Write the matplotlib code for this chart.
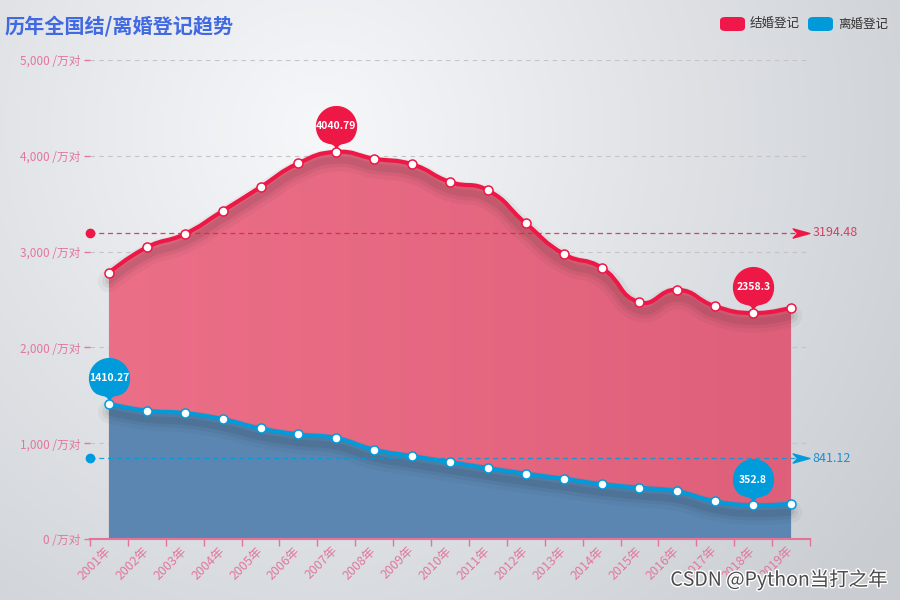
import numpy as np
import matplotlib
matplotlib.use('Agg')
import matplotlib.pyplot as plt
import matplotlib.patheffects as pe
from matplotlib.path import Path
from matplotlib.patches import PathPatch, FancyBboxPatch
from matplotlib.colors import LinearSegmentedColormap

plt.rcParams['font.family'] = ['Noto Sans CJK SC', 'DejaVu Sans']

# data (万对)
years = ['2001年', '2002年', '2003年', '2004年', '2005年', '2006年', '2007年',
         '2008年', '2009年', '2010年', '2011年', '2012年', '2013年', '2014年',
         '2015年', '2016年', '2017年', '2018年', '2019年']
marriage = [2780, 3045, 3184, 3425, 3674, 3922, 4040.79, 3970, 3911, 3727,
            3640, 3295, 2975, 2832, 2471, 2602, 2429, 2358.3, 2414]
divorce = [1410.27, 1339, 1314, 1251, 1154, 1092, 1053, 932, 865, 802,
           740, 681, 629, 573, 535, 497, 392, 352.8, 369.21]

RED = '#EE1846'
BLUE = '#009BDB'
PINK = '#E2779B'
W, H = 900, 600


def smooth_path(xs, ys, sx, sy, smooth=0.5, close=False):
    # echarts-like bezier smoothing, control points only
    pts = np.column_stack([xs, ys]).astype(float)
    n = len(pts)
    cps = []
    for i in range(n):
        if i == 0 or i == n - 1:
            cps.append((pts[i], pts[i]))
            continue
        prev, cur, nxt = pts[i - 1], pts[i], pts[i + 1]
        v = (nxt - prev) * smooth
        d0 = np.hypot((cur[0] - prev[0]) * sx, (cur[1] - prev[1]) * sy)
        d1 = np.hypot((nxt[0] - cur[0]) * sx, (nxt[1] - cur[1]) * sy)
        cps.append((cur - v * d0 / (d0 + d1), cur + v * d1 / (d0 + d1)))
    verts = [pts[0]]
    codes = [Path.MOVETO]
    for i in range(1, n):
        verts += [cps[i - 1][1], cps[i][0], pts[i]]
        codes += [Path.CURVE4] * 3
    if close:
        verts += [(pts[-1][0], 0), (pts[0][0], 0), pts[0]]
        codes += [Path.LINETO, Path.LINETO, Path.CLOSEPOLY]
    return Path(np.array(verts), codes)


def pin_marker(D=1.3):
    # tip at (0, 0), bulb of radius 1 centred at (0, D)
    u = (D + np.sqrt(D * D + 4)) / 2
    dy = 1 / u
    a = np.arcsin(dy)
    dx = np.cos(a)
    th = np.linspace(-a, np.pi + a, 48)
    arc = np.column_stack([np.cos(th), D + np.sin(th)])
    c1 = (-dx + np.sin(a) * 0.6, D - dy - np.cos(a) * 0.6)
    c2 = (dx - np.sin(a) * 0.6, D - dy - np.cos(a) * 0.6)
    verts = list(arc) + [c1, (0, 0.7), (0, 0), (0, 0.7), c2, arc[0], arc[0]]
    codes = ([Path.MOVETO] + [Path.LINETO] * (len(arc) - 1) +
             [Path.CURVE4] * 6 + [Path.CLOSEPOLY])
    return Path(np.array(verts), codes)


def arrow_marker():
    verts = [(1, 0), (-1, 0.55), (-0.45, 0), (-1, -0.55), (1, 0)]
    codes = [Path.MOVETO, Path.LINETO, Path.LINETO, Path.LINETO, Path.CLOSEPOLY]
    return Path(verts, codes)


fig = plt.figure(figsize=(9, 6), dpi=100)

# background radial gradient
bg = fig.add_axes([0, 0, 1, 1], zorder=-10)
bg.axis('off')
yy, xx = np.mgrid[0:H, 0:W]
t = np.clip(np.hypot(xx - 320, yy - 130) / 700, 0, 1)[..., None]
light = np.array([0.965, 0.97, 0.978])
dark = np.array([0.79, 0.805, 0.825])
bg.imshow(light * (1 - t) + dark * t, extent=[0, 1, 0, 1], aspect='auto')

ax = fig.add_axes([90 / W, 61 / H, 720 / W, 479 / H])
ax.patch.set_alpha(0)
x = np.arange(len(years))
ax.set_xlim(-0.5, len(years) - 0.5)
ax.set_ylim(0, 5000)
sx = 720 / len(years)
sy = 479 / 5000

shadow = [pe.SimpleLineShadow(offset=(0, -6), shadow_color='#202020', alpha=0.045, linewidth=16),
          pe.SimpleLineShadow(offset=(0, -6), shadow_color='#202020', alpha=0.06, linewidth=10),
          pe.SimpleLineShadow(offset=(0, -6), shadow_color='#202020', alpha=0.08, linewidth=5),
          pe.Normal()]

# marriage area with horizontal gradient
m_fill = PathPatch(smooth_path(x, marriage, sx, sy, close=True), facecolor='none',
                   edgecolor='none', transform=ax.transData)
ax.add_patch(m_fill)
cmap = LinearSegmentedColormap.from_list('pk', ['#EC6F88', '#DE5F79'])
im = ax.imshow(np.linspace(0, 1, 100)[None, :], cmap=cmap, aspect='auto',
               extent=[-0.5, len(years) - 0.5, 0, 5000], zorder=1)
im.set_clip_path(m_fill)

m_line = PathPatch(smooth_path(x, marriage, sx, sy), facecolor='none', edgecolor=RED,
                   lw=3, capstyle='round', joinstyle='round', zorder=2,
                   path_effects=shadow)
ax.add_patch(m_line)

# divorce area
d_fill = PathPatch(smooth_path(x, divorce, sx, sy, close=True), facecolor='#5B86B2',
                   edgecolor='none', zorder=4)
ax.add_patch(d_fill)
d_line = PathPatch(smooth_path(x, divorce, sx, sy), facecolor='none', edgecolor=BLUE,
                   lw=3, capstyle='round', joinstyle='round', zorder=5,
                   path_effects=shadow)
ax.add_patch(d_line)

# average mark lines
for vals, col, lcol in [(marriage, RED, '#D8405F'), (divorce, BLUE, '#1E8FD0')]:
    avg = np.mean(vals)
    ax.plot([-0.5, 18.2], [avg, avg], ls=(0, (4, 3)), color=col, lw=0.9,
            alpha=0.85, zorder=6, clip_on=False)
    ax.plot(-0.5, avg, 'o', ms=6, color=col, zorder=6, clip_on=False)
    ax.plot(18.26, avg, marker=arrow_marker(), ms=12, color=col, lw=0,
            zorder=6, clip_on=False)
    ax.text(18.56, avg, f'{avg:.2f}', color=lcol, fontsize=9, ha='left',
            va='center', zorder=6)

# max / min pins (tip hidden under the point marker)
pin = pin_marker()
for vals, col in [(marriage, RED), (divorce, BLUE)]:
    for i in [int(np.argmax(vals)), int(np.argmin(vals))]:
        ax.plot(x[i], vals[i], marker=pin, ms=66, color=col, lw=0, zorder=7,
                clip_on=False)
        ax.annotate(f'{vals[i]:g}', (x[i], vals[i]), xytext=(0, 18.5),
                    textcoords='offset points', ha='center', va='center',
                    color='white', fontsize=7.5, fontweight='bold', zorder=9)

ax.plot(x, marriage, 'o', ms=6.5, mfc='white', mec=RED, mew=1.1, zorder=8)
ax.plot(x, divorce, 'o', ms=6.5, mfc='white', mec=BLUE, mew=1.1, zorder=8)

# axes styling
for s in ['left', 'right', 'top']:
    ax.spines[s].set_visible(False)
ax.spines['bottom'].set_color('#E57395')
ax.spines['bottom'].set_linewidth(1.5)
ax.spines['bottom'].set_zorder(10)

yticks = [0, 1000, 2000, 3000, 4000, 5000]
ax.set_yticks(yticks, [f'{v:,} /万对' for v in yticks])
ax.tick_params(axis='y', length=4, width=1, color=PINK, labelcolor=PINK,
               labelsize=8.5, pad=3)
ax.yaxis.grid(True, ls=(0, (4, 4)), color='#C4C4C4', lw=0.8, zorder=0)
ax.set_axisbelow(True)

ax.set_xticks(x, years, rotation=45, ha='right', rotation_mode='anchor', va='center')
ax.set_xticks(np.arange(-0.5, len(years)), minor=True)
ax.tick_params(axis='x', which='major', length=0, labelcolor=PINK, labelsize=9, pad=7)
ax.tick_params(axis='x', which='minor', length=5, width=1, color='#E57395')

# title
fig.text(5 / W, 1 - 26 / H, '历年全国结/离婚登记趋势', fontsize=14.5, fontweight='bold',
         color='#4169E1', ha='left', va='center')

# legend
for lx, col, name in [(720, '#F0174A', '结婚登记'), (808, '#009AD9', '离婚登记')]:
    fig.patches.append(FancyBboxPatch((lx / W, 1 - 31 / H), 25 / W, 14 / H,
                                      boxstyle='round,pad=0,rounding_size=0.006',
                                      facecolor=col, edgecolor='none',
                                      transform=fig.transFigure, figure=fig))
    fig.text((lx + 30) / W, 1 - 24 / H, name, fontsize=9, color='#333333',
             ha='left', va='center')

# watermark
fig.text(888 / W, 1 - 580 / H, 'CSDN @Python当打之年', fontsize=14, color='#4A4A4A',
         ha='right', va='center',
         path_effects=[pe.withStroke(linewidth=2, foreground='white')])

fig.savefig('out.png', dpi=100)
